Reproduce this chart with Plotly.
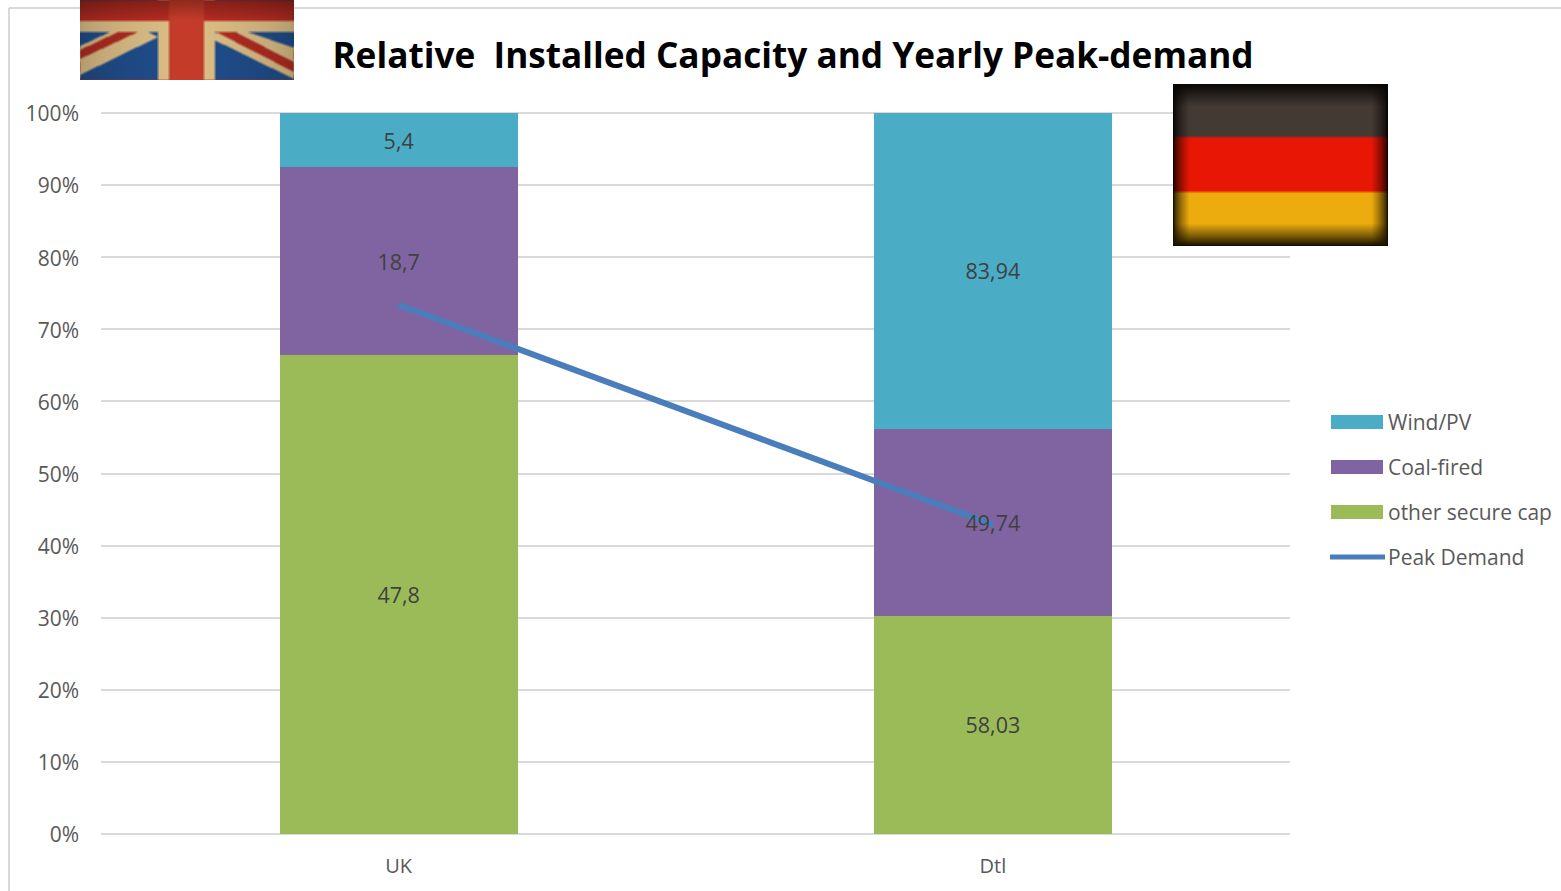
import base64
import zlib
import struct
import numpy as np
import plotly.graph_objects as go

# ---------- data ----------
categories = ["UK", "Dtl"]
wind_pv = [5.4, 83.94]
coal_fired = [18.7, 49.74]
other_secure = [47.8, 58.03]
peak_demand_pct = [73.4, 42.9]
wind_labels = ["5,4", "83,94"]
coal_labels = ["18,7", "49,74"]
other_labels = ["47,8", "58,03"]
y_ticks = list(range(0, 101, 10))
y_tick_labels = [f"{v}%" for v in y_ticks]
legend_names = ["Wind/PV", "Coal-fired", "other secure cap", "Peak Demand"]
title_text = "Relative  Installed Capacity and Yearly Peak-demand"

# ---------- styling ----------
W, H = 1561, 891
L, R, T, B = 101, 1290, 113, 834
C_WIND, C_COAL, C_OTHER, C_PEAK = "#4bacc6", "#8064a2", "#9bbb59", "#4a7ebb"
GRID = "#d9d9d9"
TXT = "#595959"
LBL = "#404040"
FONT = "Open Sans"
LABEL_NUDGE = 0.45  # value-label drop, in axis percent, to centre the glyphs optically


# page pixels -> plot-area ("paper") fractions
def px(x):
    return (x - L) / (R - L)


def py(y):
    return (B - y) / (B - T)


def to_png_uri(img):
    h, w, _ = img.shape
    raw = b"".join(b"\x00" + img[r].tobytes() for r in range(h))

    def chunk(tag, data):
        c = struct.pack(">I", len(data)) + tag + data
        return c + struct.pack(">I", zlib.crc32(tag + data) & 0xFFFFFFFF)

    png = (b"\x89PNG\r\n\x1a\n"
           + chunk(b"IHDR", struct.pack(">IIBBBBB", w, h, 8, 2, 0, 0, 0))
           + chunk(b"IDAT", zlib.compress(raw))
           + chunk(b"IEND", b""))
    return "data:image/png;base64," + base64.b64encode(png).decode()


def poly_mask(xx, yy, pts):
    inside = np.zeros_like(xx, dtype=bool)
    n = len(pts)
    for i in range(n):
        x1, y1 = pts[i]
        x2, y2 = pts[(i + 1) % n]
        cond = (y1 > yy) != (y2 > yy)
        with np.errstate(divide="ignore", invalid="ignore"):
            xint = (x2 - x1) * (yy - y1) / (y2 - y1 + 1e-9) + x1
        inside ^= cond & (xx < xint)
    return inside


def blur(a, k=1):
    out = a.copy()
    for axis in (0, 1):
        out = sum(np.roll(out, s, axis=axis) for s in range(-k, k + 1)) / (2 * k + 1)
    return out


def uk_flag():
    w, h = 214, 80
    yy, xx = np.mgrid[0:h, 0:w]
    xx = xx + 0.5
    yy = yy + 0.5
    img = np.zeros((h, w, 3), float)
    img[:] = (32, 78, 140)
    cream = (222, 192, 135)
    red = (178, 45, 35)
    for pts, col in [
        ([(0, 46), (30, 32), (68, 32), (78, 37), (0, 75)], cream),
        ([(0, 50), (38, 32), (58, 32), (0, 59)], red),
        ([(122, 34), (168, 32), (214, 48), (214, 79)], cream),
        ([(136, 32), (155, 32), (214, 62), (214, 72)], red),
    ]:
        img[poly_mask(xx, yy, pts)] = col
    img[(yy > 21) & (yy < 32)] = cream
    img[(xx > 78) & (xx < 135) & (yy > 21)] = cream
    img[yy <= 21] = (185, 45, 35)
    img[(xx > 89) & (xx < 124)] = (198, 60, 42)
    img = blur(img)
    shade = 0.72 + 0.28 * np.clip(yy / 20, 0, 1)
    side = 0.78 + 0.22 * np.clip(1 - np.abs(xx - 107) / 107, 0, 1) ** 0.5
    img *= (shade * side)[..., None]
    return np.clip(img, 0, 255).astype(np.uint8)


def de_flag():
    w, h = 215, 162
    yy, xx = np.mgrid[0:h, 0:w]
    img = np.zeros((h, w, 3), float)
    img[yy < 53] = (68, 58, 52)
    img[(yy >= 53) & (yy < 108)] = (232, 22, 4)
    img[yy >= 108] = (236, 172, 14)
    img = blur(img)
    dx = np.minimum(xx, w - 1 - xx) / 16
    dy = np.minimum(yy, h - 1 - yy) / 22
    vig = np.clip(dx, 0, 1) ** 0.7 * np.clip(dy, 0, 1) ** 0.9
    img *= (0.1 + 0.9 * vig)[..., None]
    return np.clip(img, 0, 255).astype(np.uint8)


# ---------- traces ----------
fig = go.Figure()
stack_order = [
    (legend_names[2], other_secure, C_OTHER, other_labels),
    (legend_names[1], coal_fired, C_COAL, coal_labels),
    (legend_names[0], wind_pv, C_WIND, wind_labels),
]
for name, vals, col, labels in stack_order:
    fig.add_trace(go.Bar(
        name=name, x=categories, y=vals, marker=dict(color=col, line=dict(width=0)), width=0.4,
    ))
fig.add_trace(go.Scatter(
    name=legend_names[3], x=categories, y=peak_demand_pct, mode="lines",
    line=dict(color=C_PEAK, width=6),
))

# value labels sit above the line, so they are a text layer placed at each segment's middle
totals = np.sum([v for _, v, _, _ in stack_order], axis=0)
base = np.zeros(len(categories))
for name, vals, col, labels in stack_order:
    share = np.array(vals) / totals * 100
    fig.add_trace(go.Scatter(
        x=categories, y=base + share / 2 - LABEL_NUDGE, mode="text", text=labels, showlegend=False,
        textposition="middle center", textfont=dict(family=FONT, size=21.5, color=LBL),
        hoverinfo="skip",
    ))
    base = base + share

# ---------- hand-placed legend (wide swatches as in the reference) ----------
shapes = [
    dict(type="line", xref="paper", yref="paper", x0=px(9), x1=px(9), y0=py(8), y1=py(891),
         line=dict(color=GRID, width=2), layer="below"),
    dict(type="line", xref="paper", yref="paper", x0=px(9), x1=px(1561), y0=py(8), y1=py(8),
         line=dict(color=GRID, width=2), layer="below"),
    dict(type="line", xref="paper", yref="paper", x0=0, x1=1, y0=1, y1=1,
         line=dict(color=GRID, width=2), layer="below"),
]
annotations = []
legend_y = [422, 467, 512, 557]
for name, col, yc in zip(legend_names, [C_WIND, C_COAL, C_OTHER, C_PEAK], legend_y):
    if name == legend_names[3]:
        shapes.append(dict(type="line", xref="paper", yref="paper", x0=px(1330), x1=px(1385),
                           y0=py(yc), y1=py(yc), line=dict(color=col, width=5)))
    else:
        shapes.append(dict(type="rect", xref="paper", yref="paper", x0=px(1331), x1=px(1383),
                           y0=py(yc + 7), y1=py(yc - 7), fillcolor=col, line=dict(width=0)))
    annotations.append(dict(text=name, xref="paper", yref="paper", x=px(1385.5), y=py(yc),
                            xanchor="left", yanchor="middle", showarrow=False,
                            font=dict(family=FONT, size=21, color=TXT)))

images = [
    dict(source=to_png_uri(uk_flag()), xref="paper", yref="paper", x=px(80), y=py(0),
         sizex=214 / (R - L), sizey=80 / (B - T), sizing="stretch",
         xanchor="left", yanchor="top", layer="above"),
    dict(source=to_png_uri(de_flag()), xref="paper", yref="paper", x=px(1173), y=py(84),
         sizex=215 / (R - L), sizey=162 / (B - T), sizing="stretch",
         xanchor="left", yanchor="top", layer="above"),
]

fig.update_layout(
    width=W, height=H,
    margin=dict(l=L, r=W - R, t=T, b=H - B, autoexpand=False),
    barmode="stack", barnorm="percent", bargap=0.6,
    paper_bgcolor="white", plot_bgcolor="white", showlegend=False,
    title=dict(text=title_text, xref="container", yref="container", x=793 / W, xanchor="center",
               y=1 - 56 / H, yanchor="middle", pad=dict(t=0, b=0, l=0, r=0),
               font=dict(family=FONT, size=35.2, color="#000000", weight="bold")),
    shapes=shapes, annotations=annotations, images=images,
    font=dict(family=FONT),
)
fig.update_xaxes(type="category", range=[-0.501, 1.5], showgrid=False, showline=False,
                 ticks="", tickfont=dict(family=FONT, size=20, color=TXT), ticklabelstandoff=18)
fig.update_yaxes(range=[0, 100], tickmode="array", tickvals=y_ticks, ticktext=y_tick_labels,
                 showgrid=True, gridcolor=GRID, gridwidth=2, zeroline=True, zerolinecolor=GRID,
                 zerolinewidth=2, ticks="", showline=False,
                 tickfont=dict(family=FONT, size=21, color=TXT), ticklabelstandoff=21,
                 ticklabelshift=1)

fig.write_html("out.html", config=dict(displayModeBar=False),
               post_script="document.body.style.margin='0';")
